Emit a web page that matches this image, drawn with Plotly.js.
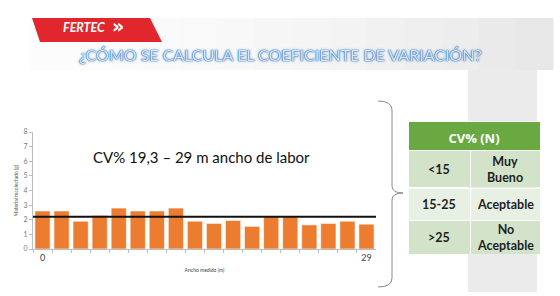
<!DOCTYPE html>
<html>
<head>
<meta charset="utf-8">
<script src="https://cdn.plot.ly/plotly-3.0.1.min.js"></script>
<style>html,body{margin:0;padding:0;background:#fff;}#chart{width:560px;height:296px;}</style>
</head>
<body>
<div id="chart"></div>
<script>
// ---- data ----
const categories = ['1','2','3','4','5','6','7','8','9','10','11','12','13','14','15','16','17','18'];
const values = [2.6, 2.6, 1.9, 2.3, 2.8, 2.6, 2.6, 2.8, 1.9, 1.75, 1.95, 1.55, 2.25, 2.25, 1.65, 1.75, 1.9, 1.7];
const tickLabels = ['0','','','','','','','','','','','','','','','','','29'];
const meanValue = [2.2];
const chartTitle = 'CV% 19,3 \u2013 29 m ancho de labor';
const slideTitle = '\u00BFC\u00D3MO SE CALCULA EL COEFICIENTE DE VARIACI\u00D3N?';
const xTitle = 'Ancho medido (m)';
const yTitle = 'Material recolectado (g)';
const tableHeader = ['<b>CV% (N)</b>'];
const cvRanges = ['<b>&lt;15</b>', '<b>15-25</b>', '<b>&gt;25</b>'];
const cvRatings = ['<b>Muy<br>Bueno</b>', '<b>Aceptable</b>', '<b>No<br>Aceptable</b>'];

// ---- helpers (pixel -> paper) ----
const W = 560, H = 296;
const px = x => x / W;
const py = y => 1 - y / H;
const P = (x, y) => px(x) + ',' + py(y);

const shapes = [];
// top band gradient (white -> light gray)
const bandSteps = 14;
for (let i = 0; i < bandSteps; i++) {
  const x0 = 30 + (553 - 30) * i / bandSteps;
  const x1 = 30 + (553 - 30) * (i + 1) / bandSteps;
  const g = Math.round(252 - 20 * Math.pow(i / (bandSteps - 1), 1.6));
  shapes.push({type: 'rect', xref: 'paper', yref: 'paper', layer: 'below',
    x0: px(x0), x1: px(x1 + 0.5), y0: py(70), y1: py(18),
    fillcolor: `rgb(${g},${g},${g})`, line: {width: 0}});
}
// white content area
shapes.push({type: 'rect', xref: 'paper', yref: 'paper', layer: 'below',
  x0: 0, x1: px(468), y0: 0, y1: py(70), fillcolor: '#ffffff', line: {width: 0}});
// gray side panel
shapes.push({type: 'rect', xref: 'paper', yref: 'paper', layer: 'below',
  x0: px(468), x1: px(537), y0: py(292), y1: py(70), fillcolor: '#ebebeb', line: {width: 0}});
// red logo banner
shapes.push({type: 'path', xref: 'paper', yref: 'paper', layer: 'below',
  path: `M ${P(32,18)} L ${P(150,18)} L ${P(162,42)} L ${P(40,42)} Z`,
  fillcolor: '#e1262d', line: {width: 0}});
// curly brace
shapes.push({type: 'path', xref: 'paper', yref: 'paper', layer: 'above',
  path: `M ${P(378,101)} Q ${P(392,101)} ${P(392,110)} L ${P(392,186)} Q ${P(392,193)} ${P(403,193)} Q ${P(392,193)} ${P(392,200)} L ${P(392,278)} Q ${P(392,287)} ${P(378,287)}`,
  line: {color: '#8a8a8a', width: 1}});
// mean line
shapes.push({type: 'line', xref: 'x domain', yref: 'y', layer: 'above',
  x0: 0, x1: 1, y0: meanValue[0], y1: meanValue[0],
  line: {color: '#111111', width: 2}});

const annotations = [
  {xref: 'paper', yref: 'paper', x: px(61), y: py(27), xanchor: 'left', yanchor: 'middle', showarrow: false,
   text: '<b><i>FERTEC</i></b>', font: {family: 'Lato, sans-serif', size: 12.5, color: '#ffffff'}},
  {xref: 'paper', yref: 'paper', x: px(110), y: py(26.5), xanchor: 'left', yanchor: 'middle', showarrow: false,
   text: '<b>\u00BB</b>', font: {family: 'DejaVu Sans, sans-serif', size: 19, color: '#ffffff'}},
  {xref: 'paper', yref: 'paper', x: px(280), y: py(54), xanchor: 'center', yanchor: 'middle', showarrow: false,
   text: slideTitle,
   font: {family: 'Lato, sans-serif', size: 16, color: '#d6e7f8',
          shadow: '0 0 1px #2a64aa, 0 0 1px #2a64aa, 0 0 3px #5d98d8'}},
  {xref: 'paper', yref: 'paper', x: px(201), y: py(157), xanchor: 'center', yanchor: 'middle', showarrow: false,
   text: chartTitle, font: {family: 'Lato, sans-serif', size: 15, color: '#111111'}}
];

const bars = {
  type: 'bar', x: categories, y: values,
  marker: {color: '#ec7c30', line: {color: '#ffffff', width: 0.6}},
  hoverinfo: 'skip'
};

const traces = [bars];

// table header (spans both columns)
traces.push({
  type: 'table',
  domain: {x: [px(408), px(540)], y: [py(151), py(121)]},
  columnwidth: [1],
  header: {values: tableHeader, align: 'center', height: 30,
    fill: {color: '#6aa842'}, line: {color: '#ffffff', width: 1},
    font: {family: 'Open Sans, sans-serif', size: 13, color: '#ffffff'}},
  cells: {values: [[]], height: 0}
});

// table body: one row per rating class (cell fills by the table, text centred with annotations)
const rowTops = [150, 188, 220];
const rowHeights = [38, 32, 34];
const rowFills = ['#d3e3ca', '#e8efe3', '#d3e3ca'];
const colX = [439, 505];
cvRanges.forEach((r, i) => {
  traces.push({
    type: 'table',
    domain: {x: [px(408), px(540)], y: [py(rowTops[i] + rowHeights[i]), py(rowTops[i])]},
    columnwidth: [62, 70],
    header: {values: ['', ''], height: rowHeights[i],
      fill: {color: rowFills[i]}, line: {color: '#ffffff', width: 1}},
    cells: {values: [[], []], height: 0}
  });
  const cy = py(rowTops[i] + rowHeights[i] / 2);
  annotations.push({xref: 'paper', yref: 'paper', x: px(colX[0]), y: cy, xanchor: 'center', yanchor: 'middle',
    showarrow: false, text: r, font: {family: 'Lato, sans-serif', size: 12.5, color: '#1f1f1f'}});
  annotations.push({xref: 'paper', yref: 'paper', x: px(colX[1]), y: cy, xanchor: 'center', yanchor: 'middle',
    showarrow: false, text: cvRatings[i], font: {family: 'Lato, sans-serif', size: 12.5, color: '#1f1f1f'}});
});

const layout = {
  width: W, height: H,
  margin: {l: 0, r: 0, t: 0, b: 0, pad: 0},
  paper_bgcolor: '#ffffff', plot_bgcolor: 'rgba(0,0,0,0)',
  showlegend: false,
  bargap: 0.2,
  xaxis: {
    type: 'category', categoryorder: 'array', categoryarray: categories,
    domain: [px(33), px(376)],
    tickson: 'boundaries', ticks: 'outside', ticklen: 3, tickcolor: '#bdbdbd',
    showline: true, linecolor: '#bdbdbd', linewidth: 1, showgrid: false, zeroline: false,
    tickmode: 'array', tickvals: categories, ticktext: tickLabels,
    tickfont: {family: 'Lato, sans-serif', size: 9, color: '#444'},
    title: {text: xTitle, standoff: 6, font: {family: 'Lato, sans-serif', size: 5, color: '#444'}}
  },
  yaxis: {
    domain: [py(249), py(132)], range: [0, 8], dtick: 1,
    ticks: 'outside', ticklen: 3, tickcolor: '#bdbdbd',
    showline: true, linecolor: '#bdbdbd', linewidth: 1, showgrid: false, zeroline: false,
    tickfont: {family: 'Lato, sans-serif', size: 7, color: '#7a7a7a'},
    title: {text: yTitle, standoff: 4, font: {family: 'Lato, sans-serif', size: 5, color: '#555'}}
  },
  shapes: shapes,
  annotations: annotations
};

Plotly.newPlot('chart', traces, layout, {displayModeBar: false, staticPlot: true});
</script>
</body>
</html>
